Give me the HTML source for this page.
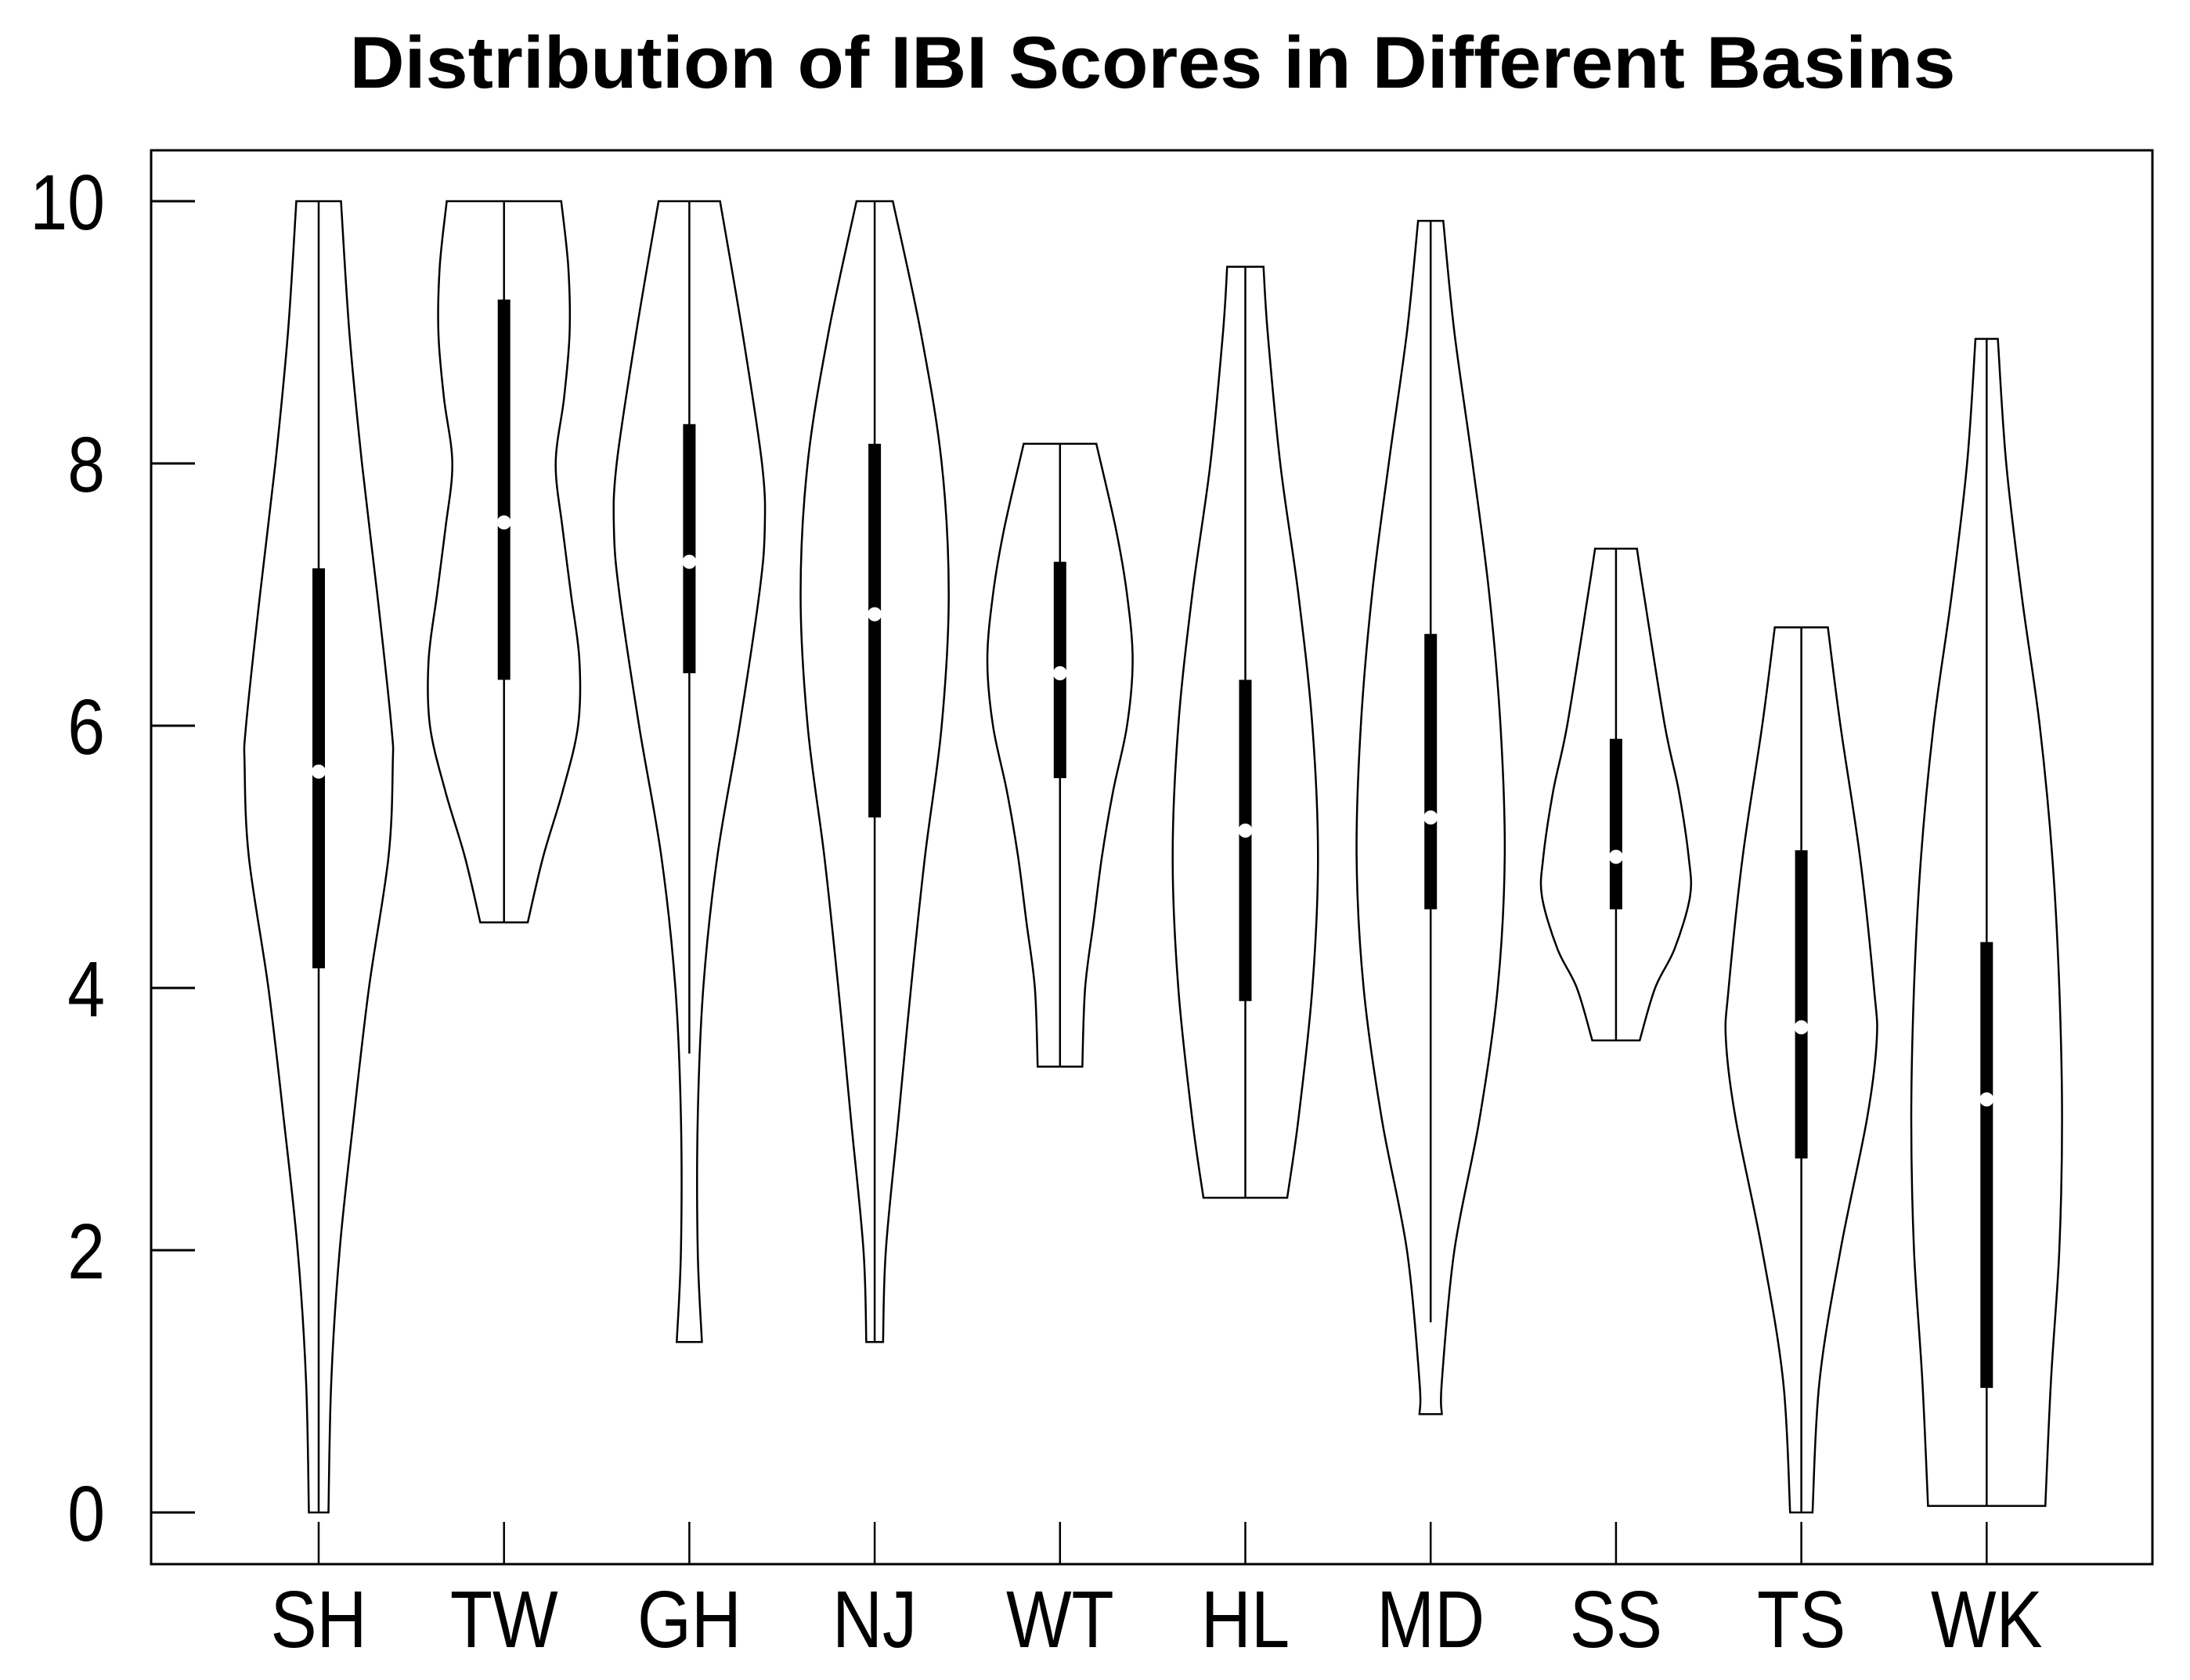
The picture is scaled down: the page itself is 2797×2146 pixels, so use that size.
<!DOCTYPE html>
<html><head><meta charset="utf-8"><style>
html,body{margin:0;padding:0;background:#fff;}
svg{display:block;font-family:"Liberation Sans",Arial,sans-serif;}
</style></head><body>
<svg id="chart" width="2797" height="2146" viewBox="0 0 2797 2146">
<rect x="0" y="0" width="2797" height="2146" fill="#fff"/>
<text x="1472" y="112" text-anchor="middle" font-size="94" font-weight="bold" textLength="2051" lengthAdjust="spacingAndGlyphs">Distribution of IBI Scores in Different Basins</text>
<g id="marks"></g>
<rect x="193" y="192" width="2556" height="1806" fill="none" stroke="#000" stroke-width="3"/>
<g id="axes"></g>
</svg>
<script>
const categories = ["SH","TW","GH","NJ","WT","HL","MD","SS","TS","WK"];
const yTicks = [0,2,4,6,8,10];
const q1s = [4.15,6.35,6.4,5.3,5.6,3.9,4.6,4.6,2.7,0.95];
const q3s = [7.2,9.25,8.3,8.15,7.25,6.35,6.7,5.9,5.05,4.35];
const medians = [5.65,7.55,7.25,6.85,6.4,5.2,5.3,5.0,3.7,3.15];
const whiskLo = [0,4.5,3.5,1.3,3.4,2.4,1.45,3.6,0,0.05];
const whiskHi = [10,10,10,10,8.15,9.5,9.85,7.35,6.75,8.95];
// density profiles: levels (IBI value) and relative density (half-width)
const densLevels = [
 [0,1,2,3,4,5,5.7,6,7,8,9,10],
 [4.5,5,5.5,6,6.5,7,7.5,8,8.5,9,9.5,10],
 [1.3,2,3,4,5,6,7,7.5,8,9,10],
 [1.3,2,3,4,5,6,7,8,9,10],
 [3.4,4,4.5,5,5.5,6,6.5,7,7.5,8.15],
 [2.4,3,4,5,6,7,8,9,9.5],
 [0.75,1,2,3,4,5,6,7,8,9,9.85],
 [3.6,4,4.3,4.7,5,5.5,6,7,7.35],
 [0,1,2,3,3.6,4,5,6,6.75],
 [0.05,1,2,3,4,5,6,7,8,8.95]
];
const densValues = [
 [7,9,15,25,36,50,53,52,42,31,22,16],
 [17,28,42,53,54,48,42,37,43,47,46,41],
 [9,6,6,10,20,36,50,54,52,38,22],
 [6,8,17,26,36,48,53,48,33,13],
 [16,18,24,30,38,48,52,48,40,26],
 [30,38,48,52,48,38,25,16,13],
 [8,8,17,35,48,53,50,42,30,17,9],
 [17,28,42,53,52,45,35,20,15],
 [8,13,28,47,54,52,42,28,19],
 [42,46,52,54,52,47,38,25,14,8]
];
const NS="http://www.w3.org/2000/svg";
const x0=407, dx=236.7, y0=1932, yk=167.5, wScale=1.784;
const xS = i => x0 + i*dx;
const yS = v => y0 - v*yk;
const marks=document.getElementById('marks'), axes=document.getElementById('axes');
function mk(tag,attrs,parent){const e=document.createElementNS(NS,tag);for(const k in attrs)e.setAttribute(k,attrs[k]);parent.appendChild(e);return e;}
function narrow(t){const w=t.getComputedTextLength();t.setAttribute('textLength',(w*0.86).toFixed(1));t.setAttribute('lengthAdjust','spacingAndGlyphs');}
function spline(pts){let d="M"+pts[0][0]+","+pts[0][1];for(let i=0;i<pts.length-1;i++){const p0=pts[Math.max(0,i-1)],p1=pts[i],p2=pts[i+1],p3=pts[Math.min(pts.length-1,i+2)];
 const c1=[p1[0]+(p2[0]-p0[0])/6,p1[1]+(p2[1]-p0[1])/6],c2=[p2[0]-(p3[0]-p1[0])/6,p2[1]-(p3[1]-p1[1])/6];
 d+=" C"+c1[0].toFixed(1)+","+c1[1].toFixed(1)+" "+c2[0].toFixed(1)+","+c2[1].toFixed(1)+" "+p2[0].toFixed(1)+","+p2[1].toFixed(1);}return d;}
categories.forEach((c,i)=>{
 const cx=xS(i), L=densLevels[i], D=densValues[i];
 const right=L.map((v,j)=>[cx+D[j]*wScale,yS(v)]);
 const left=L.map((v,j)=>[cx-D[j]*wScale,yS(v)]).reverse();
 let d=spline(right); const ld=spline(left);
 d+=" L"+left[0][0]+","+left[0][1]+ld.slice(ld.indexOf(" "))+" Z";
 const p=mk('path',{d:d,fill:'#fff',stroke:'#000','stroke-width':2.5},marks);
 
 
 const w=mk('line',{x1:cx,x2:cx,y1:yS(whiskLo[i]),y2:yS(whiskHi[i]),stroke:'#000','stroke-width':2.5},marks);
 
 
 const b=mk('rect',{x:cx-8,y:yS(q3s[i]),width:16,height:yS(q1s[i])-yS(q3s[i]),fill:'#000'},marks);
 
 
 const m=mk('circle',{cx:cx,cy:yS(medians[i]),r:9,fill:'#fff'},marks);
 
 
 const t=mk('line',{x1:cx,x2:cx,y1:1944,y2:1998,stroke:'#000','stroke-width':2.5},axes);
 
 
 const lb=mk('text',{x:cx,y:2104,'text-anchor':'middle','font-size':103},axes);
 lb.textContent=c;
 
 
 narrow(lb);
});
yTicks.forEach(v=>{
 const t=mk('line',{x1:193,x2:249,y1:yS(v),y2:yS(v),stroke:'#000','stroke-width':3},axes);
 
 
 const lb=mk('text',{x:134,y:yS(v)+36,'text-anchor':'end','font-size':100},axes);
 lb.textContent=v;
 
 
 narrow(lb);
});
</script>
</body></html>
